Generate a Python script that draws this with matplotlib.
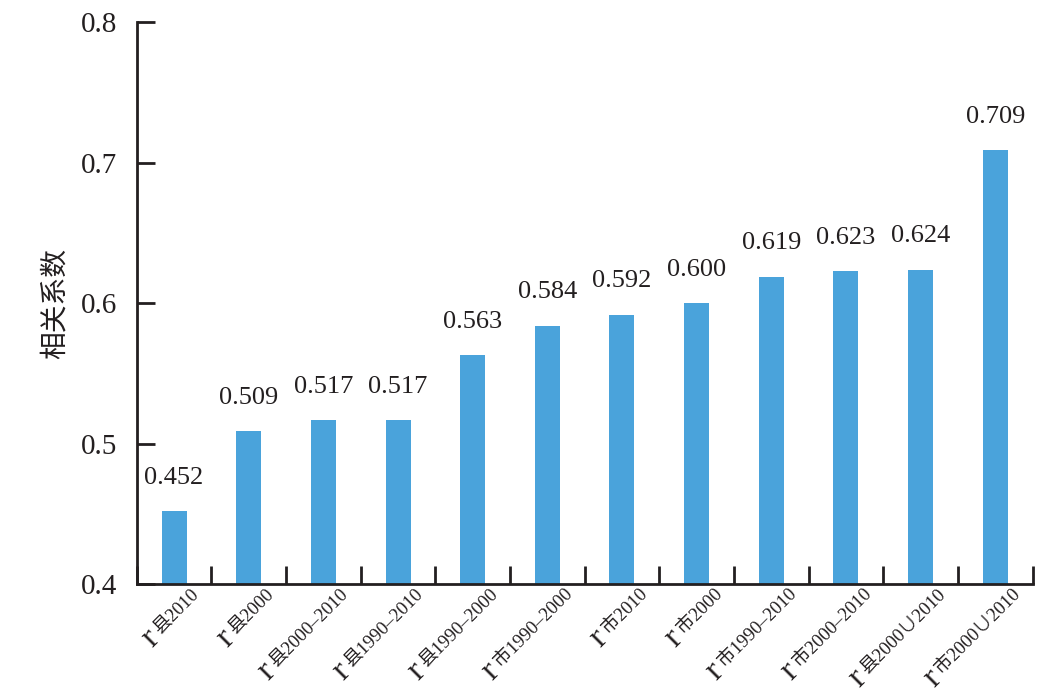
import matplotlib
matplotlib.use('Agg')
import matplotlib.pyplot as plt
from matplotlib import transforms
import numpy as np

# sub-script part of every category label ("r" is drawn in front of it)
subs = ['县2010', '县2000', '县2000–2010', '县1990–2010', '县1990–2000', '市1990–2000',
        '市2010', '市2000', '市1990–2010', '市2000–2010', '县2000∪2010', '市2000∪2010']
values = [0.452, 0.509, 0.517, 0.517, 0.563, 0.584, 0.592, 0.600, 0.619, 0.623, 0.624, 0.709]
yticks = [0.4, 0.5, 0.6, 0.7, 0.8]

serif = ['Liberation Serif', 'Noto Sans CJK SC', 'DejaVu Sans']
cjk = ['Noto Sans CJK SC', 'DejaVu Sans']
bar_color = '#4aa3db'

fig = plt.figure(figsize=(10.44, 6.99), dpi=100)
ax = fig.add_axes([0.131, 0.164, 0.858, 0.804])

x = np.arange(len(values))
ax.bar(x, values, width=0.335, color=bar_color, zorder=2)
for xi, v in zip(x, values):
    ax.text(xi, v + 0.016, f'{v:.3f}', ha='center', va='bottom',
            fontsize=19, family=serif, color='#231f20')

ax.set_xlim(-0.5, len(values) - 0.5)
ax.set_ylim(0.4, 0.8)
ax.set_yticks(yticks)
ax.set_yticklabels([f'{t:.1f}' for t in yticks], family=serif, fontsize=21, color='#231f20')
ax.set_xticks(np.arange(len(values) + 1) - 0.5)
ax.set_xticklabels([])
ax.tick_params(axis='y', direction='in', length=13, width=2, pad=14, color='#231f20')
ax.tick_params(axis='x', direction='in', length=13, width=2, color='#231f20')
for s in ['top', 'right']:
    ax.spines[s].set_visible(False)
for s in ['left', 'bottom']:
    ax.spines[s].set_linewidth(2)
    ax.spines[s].set_color('#231f20')

ax.set_ylabel('相关系数', family=cjk, fontsize=20, color='#231f20', labelpad=8,
              fontweight='light')

# rotated category labels: big "r" + smaller subscript text
fig.canvas.draw()
renderer = fig.canvas.get_renderer()
trans = transforms.blended_transform_factory(ax.transData, ax.transAxes)
c45 = np.cos(np.pi / 4)
dx, dy = 26, -10
for xi, sub in zip(x, subs):
    base = transforms.offset_copy(trans, fig=fig, x=dx, y=dy, units='dots')
    ax.text(xi, 0, sub, transform=base, rotation=45, rotation_mode='anchor',
            ha='right', va='baseline', fontsize=13.5, family=serif, color='#231f20')
    tmp = fig.text(0, 0, sub, fontsize=13.5, family=serif)
    w = tmp.get_window_extent(renderer).width
    tmp.remove()
    gap = w + 4
    shift = transforms.offset_copy(trans, fig=fig, x=dx - gap * c45 + 3,
                                   y=dy - gap * c45 - 3, units='dots')
    ax.text(xi, 0, 'r', transform=shift, rotation=45, rotation_mode='anchor',
            ha='right', va='baseline', fontsize=24, family=serif, color='#231f20')

fig.savefig('out.png', dpi=100)
